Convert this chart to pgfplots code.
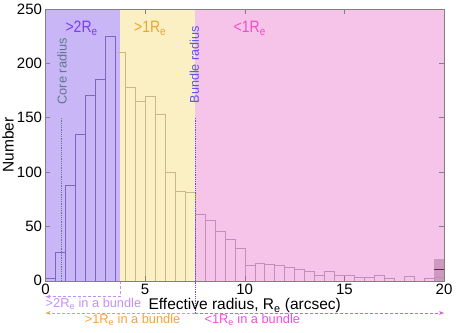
\documentclass[border=0pt]{standalone}
\usepackage{fontspec}
\setmainfont{Liberation Sans}
\newfontfamily\narrowfont[FakeStretch=0.85]{Liberation Sans}
\usepackage{pgfplots}
\pgfplotsset{compat=1.18}
\usetikzlibrary{arrows.meta}

\definecolor{bgpurple}{RGB}{200,182,246}
\definecolor{bgyellow}{RGB}{251,239,196}
\definecolor{bgpink}{RGB}{246,195,233}
\definecolor{edpurple}{RGB}{125,102,195}
\definecolor{edyellow}{RGB}{200,184,138}
\definecolor{edpink}{RGB}{196,143,183}
\definecolor{txpurple}{RGB}{122,62,240}
\definecolor{txgold}{RGB}{232,168,48}
\definecolor{txmagenta}{RGB}{240,80,200}
\definecolor{lopurple}{RGB}{192,144,248}
\definecolor{loorange}{RGB}{248,160,64}
\definecolor{lomagenta}{RGB}{240,80,224}
\definecolor{corecol}{RGB}{95,120,140}
\definecolor{bundlecol}{RGB}{90,80,240}
\definecolor{overflow}{RGB}{100,35,75}

\begin{document}
\begin{tikzpicture}
\path[use as bounding box] (-45.5pt,-51.3pt) rectangle (411.5pt,280.7pt);
\begin{axis}[
  scale only axis,
  width=398.5pt, height=271.7pt,
  xmin=0, xmax=20, ymin=0, ymax=250,
  xtick={0,5,10,15,20},
  ytick={0,50,100,150,200,250},
  tick align=inside,
  major tick length=5pt,
  axis on top,
  clip=false,
  axis line style={gray},
  every tick/.style={gray},
  tick label style={font=\fontsize{15}{18}\selectfont},
  /pgf/number format/assume math mode=true,
  xlabel={Effective radius, R\textsubscript{e} (arcsec)},
  ylabel={Number},
  label style={font=\fontsize{15.5}{18}\selectfont},
  xlabel style={at={(axis description cs:0.5,-0.093)}, anchor=center},
  ylabel style={at={(axis description cs:-0.094,0.5)}, anchor=center},
]
% background zones
\addplot[fill=bgpurple, draw=none] coordinates {(0,250) (3.75,250)} \closedcycle;
\addplot[fill=bgyellow, draw=none] coordinates {(3.75,250) (7.5,250)} \closedcycle;
\addplot[fill=bgpink, draw=none] coordinates {(7.5,250) (20,250)} \closedcycle;

% overflow bin
\addplot[fill=edpink!80!bgpink, draw=none] coordinates {(19.5,20) (20,20)} \closedcycle;
\addplot[draw=overflow, line width=1.2pt] coordinates {(19.5,10) (20,10)};

% histogram, bins of 0.5 arcsec
\addplot[ybar interval, draw=edyellow, fill=none] coordinates {
  (3.5,210) (4,178) (4.5,165) (5,170) (5.5,153) (6,100) (6.5,82) (7,81) (7.5,0)
};
\addplot[ybar interval, draw=edpurple, fill=none] coordinates {
  (0,2) (0.5,26) (1,88) (1.5,135) (2,171) (2.5,185) (3,225) (3.5,0)
};
\addplot[ybar interval, draw=edpink, fill=none] coordinates {
  (7.5,61) (8,56) (8.5,46) (9,38) (9.5,30) (10,14) (10.5,16) (11,15)
  (11.5,14) (12,12) (12.5,11) (13,9) (13.5,5) (14,9) (14.5,5) (15,5)
  (15.5,3) (16,3) (16.5,5) (17,2) (17.5,0) (18,4) (18.5,0) (19,2)
  (19.5,3) (20,0)
};

% core and bundle radius
\addplot[corecol, densely dotted, thick] coordinates {(0.78,0) (0.78,150)};
\addplot[bundlecol, densely dotted, thick] coordinates {(7.5,-29.7) (7.5,150)};
\node[corecol, rotate=90, anchor=west, font=\fontsize{12.8}{14}\selectfont] at (axis cs:0.83,159) {Core radius};
\node[bundlecol, rotate=90, anchor=west, font=\fontsize{12.6}{14}\selectfont] at (axis cs:7.47,160) {Bundle radius};

% zone labels
\node[txpurple, anchor=base, font=\narrowfont\fontsize{16.5}{18}\selectfont] at (axis cs:1.81,228) {>2R\textsubscript{e}};
\node[txgold, anchor=base, font=\narrowfont\fontsize{16.5}{18}\selectfont] at (axis cs:5.25,228) {>1R\textsubscript{e}};
\node[txmagenta, anchor=base, font=\narrowfont\fontsize{16.5}{18}\selectfont] at (axis cs:10.25,228) {<1R\textsubscript{e}};

% bundle annotations below the axis
\draw[lopurple, densely dashed, -{Stealth[length=5pt]}] (axis cs:3.75,0) -- (axis cs:3.75,-14.7) -- (axis cs:0,-14.7);
\draw[loorange, densely dashed, -{Stealth[length=5pt]}] (axis cs:7.5,-29.7) -- (axis cs:0,-29.7);
\draw[lomagenta, densely dashed, -{Stealth[length=5pt]}] (axis cs:7.5,-29.7) -- (axis cs:20,-29.7);
\node[lopurple, anchor=west, inner sep=0pt, font=\fontsize{12.8}{14}\selectfont] at (axis cs:0,-21.4) {>2R\textsubscript{e} in a bundle};
\node[loorange, inner sep=0pt, font=\fontsize{12.8}{14}\selectfont] at (axis cs:4.37,-36) {>1R\textsubscript{e} in a bundle};
\node[lomagenta, inner sep=0pt, font=\fontsize{12.8}{14}\selectfont] at (axis cs:10.38,-36) {<1R\textsubscript{e} in a bundle};
\end{axis}
\end{tikzpicture}
\end{document}
